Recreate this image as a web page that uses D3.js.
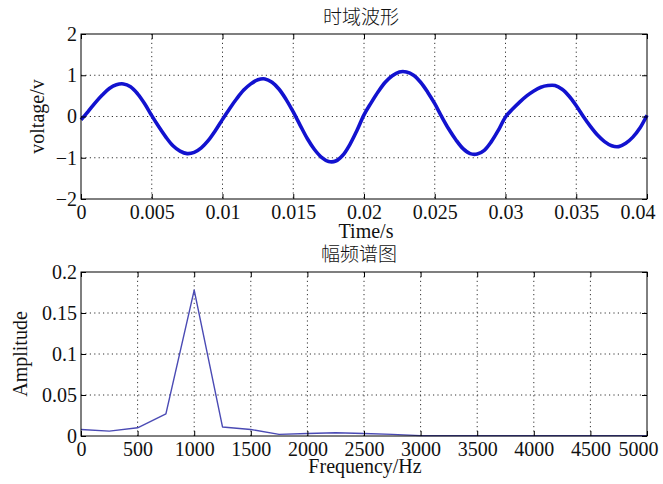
<!DOCTYPE html>
<html><head><meta charset="utf-8">
<script src="https://cdn.jsdelivr.net/npm/d3@7"></script>
<style>
body{margin:0;background:#fff}
svg{display:block}
text{font-family:"Liberation Serif","Times New Roman",serif;fill:#111}
.cjk{font-family:"Noto Sans CJK SC",sans-serif;font-weight:300}
</style></head><body>
<svg id="c" width="663" height="484"></svg>
<script>
// ---- data: time-domain waveform (time in ms, voltage in V) ----
const timeMs = [0,0.5,1,1.5,2,2.5,3,3.5,4,4.5,5,5.5,6,6.5,7,7.5,8,8.5,9,9.5,10,
  10.5,11,11.5,12,12.5,13,13.5,14,14.5,15,15.5,16,16.5,17,17.5,18,18.5,19,19.5,20,
  20.5,21,21.5,22,22.5,23,23.5,24,24.5,25,25.5,26,26.5,27,27.5,28,28.5,29,29.5,30,
  30.5,31,31.5,32,32.5,33,33.5,34,34.5,35,35.5,36,36.5,37,37.5,38,38.5,39,39.5,40];
const voltage = [-0.08,0.12,0.33,0.52,0.68,0.77,0.79,0.72,0.55,0.31,0.02,
  -0.25,-0.50,-0.71,-0.84,-0.90,-0.87,-0.76,-0.58,-0.34,-0.07,
  0.19,0.43,0.64,0.79,0.89,0.91,0.83,0.66,0.41,0.11,
  -0.22,-0.54,-0.80,-0.99,-1.09,-1.08,-0.94,-0.68,-0.34,0.04,
  0.33,0.60,0.83,0.99,1.08,1.08,1.00,0.83,0.59,0.31,
  -0.01,-0.31,-0.57,-0.78,-0.90,-0.91,-0.82,-0.61,-0.33,-0.01,
  0.18,0.35,0.50,0.62,0.71,0.75,0.75,0.66,0.49,0.26,
  0.00,-0.24,-0.45,-0.61,-0.71,-0.73,-0.65,-0.50,-0.28,0.03];
const timeTicks = [0,5,10,15,20,25,30,35,40];
const timeTickLabels = ["0","0.005","0.01","0.015","0.02","0.025","0.03","0.035","0.04"];
const voltTicks = [-2,-1,0,1,2];
const voltTickLabels = ["\u22122","\u22121","0","1","2"];

// ---- data: amplitude spectrum ----
const freqHz = [0,250,500,750,1000,1250,1500,1750,2000,2250,2500,2750,3000,
  3250,3500,3750,4000,4250,4500,4750,5000];
const amplitude = [0.008,0.006,0.010,0.027,0.178,0.011,0.008,0.002,0.003,0.004,0.003,0.002,0.0005,
  0.0005,0.0005,0.0005,0.0005,0.0005,0.0005,0.0005,0.0005];
const freqTicks = [0,500,1000,1500,2000,2500,3000,3500,4000,4500,5000];
const freqTickLabels = ["0","500","1000","1500","2000","2500","3000","3500","4000","4500","5000"];
const ampTicks = [0,0.05,0.1,0.15,0.2];
const ampTickLabels = ["0","0.05","0.1","0.15","0.2"];

const titles = ["时域波形","幅频谱图"];
const xLabels = ["Time/s","Frequency/Hz"];
const yLabels = ["voltage/v","Amplitude"];

const svg = d3.select("#c");
const FS = 20;

function panel(o){
  const x = d3.scaleLinear().domain(o.xDomain).range([o.left,o.right]);
  const y = d3.scaleLinear().domain(o.yDomain).range([o.bottom,o.top]);
  const g = svg.append("g");
  // grid
  g.append("g").selectAll("line").data(o.xTicks.slice(1,-1)).join("line")
    .attr("x1",d=>x(d)).attr("x2",d=>x(d)).attr("y1",o.top).attr("y2",o.bottom)
    .attr("stroke","#333").attr("stroke-width",1).attr("stroke-dasharray","1.2,3.2");
  g.append("g").selectAll("line").data(o.yTicks.slice(1,-1)).join("line")
    .attr("y1",d=>y(d)).attr("y2",d=>y(d)).attr("x1",o.left).attr("x2",o.right)
    .attr("stroke","#333").attr("stroke-width",1).attr("stroke-dasharray","1.2,3.2");
  // data line
  g.append("path").datum(o.xs.map((v,i)=>[v,o.ys[i]]))
    .attr("fill","none").attr("stroke",o.color).attr("stroke-width",o.width)
    .attr("stroke-linejoin","round")
    .attr("d",d3.line().x(d=>x(d[0])).y(d=>y(d[1])).curve(o.curve));
  // axes with inward ticks
  const ax = (gen,tx,ty,labels)=>{
    const a = g.append("g").attr("transform",`translate(${tx},${ty})`).call(gen);
    a.select(".domain").remove();
    a.selectAll(".tick line").attr("stroke","#000");
    a.selectAll("text").attr("font-size",FS).attr("fill","#111")
      .attr("font-family","'Liberation Serif',serif");
    if(!labels) a.selectAll("text").remove();
    return a;
  };
  const bx = ax(d3.axisBottom(x).tickValues(o.xTicks).tickFormat((d,i)=>o.xTickLabels[i]).tickSize(-5).tickPadding(6),0,o.bottom,true);
  // last label kept inside the picture, as in the reference
  bx.selectAll(".tick text").filter((d,i,n)=>i===n.length-1)
    .attr("text-anchor","end").attr("x",o.lastShift);
  ax(d3.axisTop(x).tickValues(o.xTicks).tickSize(-5),0,o.top,false);
  ax(d3.axisLeft(y).tickValues(o.yTicks).tickFormat((d,i)=>o.yTickLabels[i]).tickSize(-5).tickPadding(4),o.left,0,true);
  ax(d3.axisRight(y).tickValues(o.yTicks).tickSize(-5),o.right,0,false);
  g.append("rect").attr("x",o.left).attr("y",o.top).attr("width",o.right-o.left)
    .attr("height",o.bottom-o.top).attr("fill","none").attr("stroke","#000").attr("stroke-width",1);
  // title & labels
  g.append("text").attr("class","cjk").attr("x",o.titleX).attr("y",o.titleY)
    .attr("text-anchor","middle").attr("font-size",19).text(o.title);
  g.append("text").attr("x",o.xLabelX).attr("y",o.xLabelY).attr("text-anchor","middle")
    .attr("font-size",FS).text(o.xLabel);
  g.append("text").attr("transform",`translate(${o.yLabelX},${(o.top+o.bottom)/2}) rotate(-90)`)
    .attr("text-anchor","middle").attr("font-size",FS).text(o.yLabel);
}

panel({left:81,right:647,top:34,bottom:199,xDomain:[0,40],yDomain:[-2,2],
  xs:timeMs,ys:voltage,xTicks:timeTicks,xTickLabels:timeTickLabels,
  yTicks:voltTicks,yTickLabels:voltTickLabels,color:"#1212cf",width:3.6,
  curve:d3.curveCatmullRom,title:titles[0],titleX:361,titleY:24,lastShift:8,
  xLabel:xLabels[0],xLabelX:366,xLabelY:238,yLabel:yLabels[0],yLabelX:44});

panel({left:81,right:647,top:272,bottom:436,xDomain:[0,5000],yDomain:[0,0.2],
  xs:freqHz,ys:amplitude,xTicks:freqTicks,xTickLabels:freqTickLabels,
  yTicks:ampTicks,yTickLabels:ampTickLabels,color:"#4a4ab4",width:1.4,
  curve:d3.curveLinear,title:titles[1],titleX:359,titleY:261,lastShift:11,
  xLabel:xLabels[1],xLabelX:365,xLabelY:473,yLabel:yLabels[1],yLabelX:27});
</script>
</body></html>
